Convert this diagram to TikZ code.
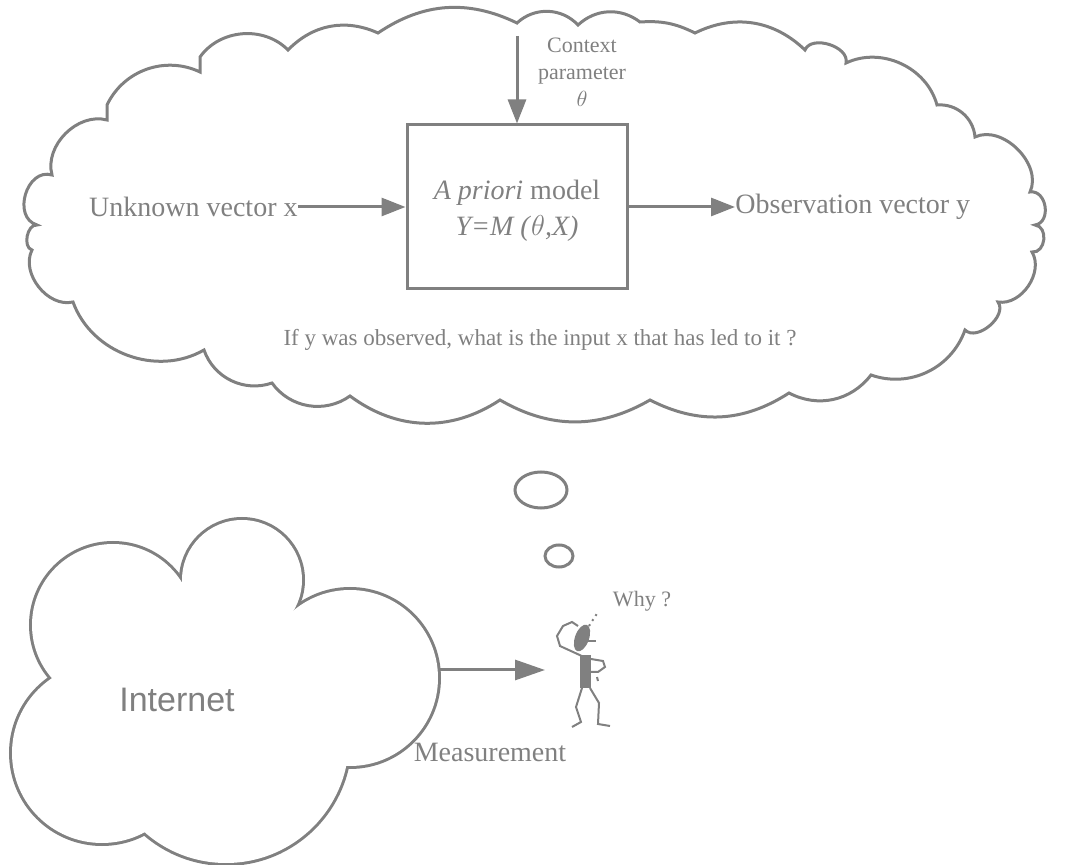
\documentclass[tikz,border=0pt]{standalone}
\usepackage{fontspec}
\setmainfont{Liberation Serif}
\newfontfamily\netfont{Liberation Sans}
\usepackage{tikz}
\usetikzlibrary{positioning}
\usetikzlibrary{arrows.meta}
\definecolor{inkGray}{RGB}{128,128,128}

\begin{document}
\begin{tikzpicture}[x=0.5pt,y=-0.5pt,
  line/.style={inkGray, line width=1.5pt},
  arr/.style={line, -{Triangle[length=12pt,width=9pt]}},
  bigarr/.style={line, -{Triangle[length=15pt,width=10pt]}},
  lbl/.style={text=inkGray, inner sep=0pt, font=\fontsize{14}{18}\selectfont},
  modelbox/.style={draw=inkGray, line width=1.5pt, minimum width=110pt, minimum height=82pt},
  ]
\useasboundingbox (0,0) rectangle (1066,865);

% the thought cloud
\draw [line] (73,302)
  to[bend left=65] (32,250)
  to[bend left=85] (37,225)
  to[bend left=90, looseness=1.3] (52,175)
  to[bend left=60] (107,120) -- (107,105)
  to[bend left=45] (200,72) -- (200,57)
  to[bend left=50] (288,50)
  to[bend left=35] (378,33)
  to[bend left=30] (517,23)
  to[bend left=45] (578,25)
  to[bend left=40] (640,22)
  to[bend left=15] (695,33)
  to[bend left=35] (805,50)
  to[bend left=85] (846,63)
  to[bend left=50] (937,105)
  to[bend left=45] (975,137)
  to[bend left=70] (1030,192)
  to[bend left=90, looseness=1.3] (1035,225)
  to[bend left=90, looseness=1.3] (1032,252)
  to[bend left=65] (998,302)
  to[bend left=85] (965,330)
  to[bend left=45] (871,375)
  to[bend left=40] (789,393)
  to[bend left=30] (650,400)
  to[bend left=30] (500,400)
  to[bend left=35] (350,396)
  to[bend left=45] (272,383)
  to[bend left=45] (204,350)
  to[bend left=50] (73,302) -- cycle;

\node [modelbox] (model) at (517,207) {};
\node [lbl, align=center] (modeltext) at (517,211) {\textit{A priori} model\\\textit{Y=M (}$\theta$\textit{,X)}};
\node [lbl, anchor=east] (unknown) at (298,207) {Unknown vector x};
\node [lbl, anchor=west] (observ) at (735,207) {Observation vector y};
\node [lbl, align=center, font=\fontsize{11}{13.5}\selectfont] (ctx) at (582,72) {Context\\parameter\\$\theta$};
\coordinate (ctxtop) at (517,36);
\node [lbl, font=\fontsize{11.5}{14}\selectfont] (question) at (540,340) {If y was observed, what is the input x that has led to it ?};

\draw [arr] (unknown) -- (model);
\draw [arr] (model) -- (observ);
\draw [arr] (ctxtop) -- (model);

% bubbles
\draw [line] (541,490) ellipse (13pt and 9pt);
\draw [line] (559,556) ellipse (7pt and 5.5pt);

% internet cloud, union of puffs
\foreach \cx/\cy/\r in {113/625/40.5pt, 242/580/30pt, 350/678/44pt, 226/740/61.5pt, 102/753/45pt}
  \draw [inkGray, line width=3pt] (\cx,\cy) circle (\r);
\foreach \cx/\cy/\r in {113/625/40.5pt, 242/580/30pt, 350/678/44pt, 226/740/61.5pt, 102/753/45pt}
  \fill [white] (\cx,\cy) circle (\r);
\fill [white] (150,600) -- (290,620) -- (340,760) -- (150,830) -- (60,700) -- cycle;
\node [text=inkGray, font=\netfont\fontsize{17}{20}\selectfont] (inet) at (177,700) {Internet};

\coordinate (inetout) at (438,670);
\coordinate (viewer) at (545,670);
\draw [bigarr] (inetout) -- (viewer);
\node [lbl] (measure) at (490,752) {Measurement};
\node [lbl, font=\fontsize{11}{13}\selectfont] (whyq) at (642,601) {Why ?};

% little man
\begin{scope}[inkGray, line width=1pt]
\fill [rotate around={-20:(582,638)}] (582,638) ellipse (3.5pt and 7pt);
\draw (584,641) -- (596,641);
\draw (584,657) -- (560,646) -- (557,636) -- (563,626) -- (572,622) -- (578,626);
\fill (580,655) rectangle (591,688);
\draw (591,659) -- (603,661) -- (605,667) -- (598,672) -- (591,672);
\draw (597,677) -- (598,681);
\draw (582,688) -- (576,707) -- (581,722) -- (572,727);
\draw (590,688) -- (599,703) -- (598,724) -- (610,726);
\draw [dotted] (589,626) -- (598,612);
\end{scope}
\end{tikzpicture}
\end{document}
